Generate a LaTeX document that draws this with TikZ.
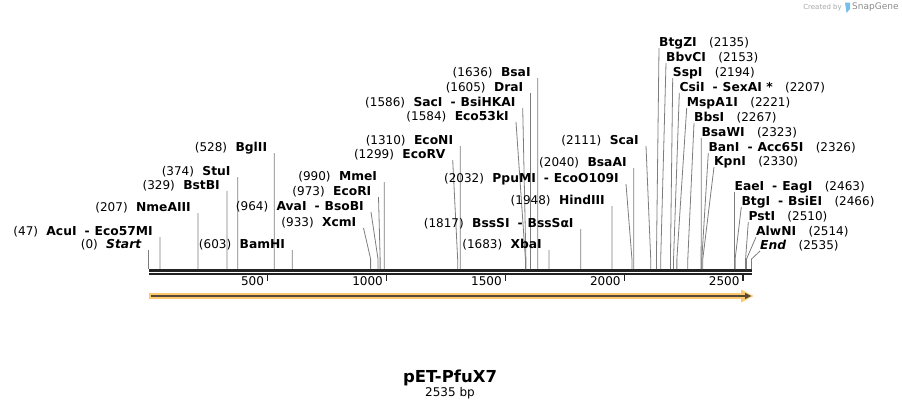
\documentclass[tikz,border=0pt]{standalone}
\usepackage{fontspec}
\setmainfont{DejaVu Sans}
\usetikzlibrary{positioning}
\definecolor{siteline}{RGB}{125,125,125}
\definecolor{featorange}{RGB}{250,200,110}
\definecolor{featdark}{RGB}{88,72,52}
\definecolor{rulerblack}{RGB}{34,34,34}
\definecolor{snapblue}{RGB}{120,190,235}
\newcommand\orsite{\hspace{8pt}-\hspace{5pt}}

\begin{document}
\begin{tikzpicture}[x=1pt,y=-1pt,
    enzyme/.style={font=\bfseries\fontsize{12.3}{14}\selectfont,inner sep=0pt},
    bpnum/.style={font=\fontsize{12}{14}\selectfont,inner sep=0pt},
    cutline/.style={draw=siteline,line width=0.8pt}]
    \useasboundingbox (0,0) rectangle (902,408);

    \draw[rulerblack,line width=3pt] (148.8,270.8) -- (752,270.8);
    \draw[rulerblack,line width=2pt] (148.8,274.3) -- (752,274.3);
    \foreach\k in {500,1000,1500,2000,2500}{
        \draw[rulerblack,line width=1.6pt] ({148.8+0.23776*\k},275) -- ++(0,6);
        \node[bpnum,anchor=base east] (k\k) at ({145.3+0.23776*\k},285.5) {\k};
    }

    \foreach\p/\tx/\ty/\enz in {0/148.8/250/\textit{Start}, 47/160.0/237/AcuI\orsite Eco57MI,
        207/198.0/213/NmeAIII, 329/227.0/191/BstBI, 374/237.7/177/StuI, 528/274.3/153/BglII,
        603/292.2/250/BamHI, 933/363.5/228/XcmI, 964/371.0/212/AvaI\orsite BsoBI,
        973/378.5/197/EcoRI, 990/384.2/182/MmeI, 1299/452.7/160/EcoRV, 1310/460.3/146/EcoNI,
        1584/516.0/122/Eco53kI, 1586/522.7/108/SacI\orsite BsiHKAI, 1605/530.4/93/DraI,
        1636/537.8/78/BsaI, 1683/549.0/250/XbaI, 1817/580.8/229/BssSI\orsite BssSαI,
        1948/612.0/206/HindIII, 2032/626.0/184/PpuMI\orsite EcoO109I, 2040/633.8/168/BsaAI,
        2111/646.0/146/ScaI}{
        \coordinate (s\p) at ({148.8+0.23776*\p},269);
        \coordinate (t\p) at (\tx,\ty);
        \node[enzyme,anchor=base east] (n\p) at ([xshift=-7pt,yshift=2pt]t\p) {\enz};
        \node[bpnum,left=8pt of n\p.base west,anchor=base east] (b\p) {(\p)};
        \draw[cutline] (s\p) -- ++(0,-10) -- (t\p);
    }

    \foreach\p/\tx/\ty/\enz in {2135/659.0/48/BtgZI, 2153/666.0/63/BbvCI, 2194/672.7/78/SspI,
        2207/679.3/93/CsiI\orsite SexAI *, 2221/686.7/108/MspA1I, 2267/694.0/123/BbsI,
        2323/701.3/138/BsaWI, 2326/708.3/153/BanI\orsite Acc65I, 2330/714.0/167/KpnI,
        2463/734.4/192/EaeI\orsite EagI, 2466/741.3/207/BtgI\orsite BsiEI, 2510/748.3/222/PstI,
        2514/756.0/237/AlwNI, 2535/760.0/251/\textit{End}}{
        \coordinate (s\p) at ({148.8+0.23776*\p},269);
        \coordinate (t\p) at (\tx,\ty);
        \node[enzyme,anchor=base west] (n\p) at ([yshift=2pt]t\p) {\enz};
        \node[bpnum,right=12pt of n\p.base east,anchor=base west] (b\p) {(\p)};
        \draw[cutline] (s\p) -- ++(0,-10) -- (t\p);
    }

    \draw[featorange,line width=5.5pt] (148.8,296) -- (743,296);
    \fill[featorange] (741,289.5) -- (753.5,296) -- (741,302.5) -- cycle;
    \draw[featdark,line width=2pt] (150.5,296) -- (746,296);
    \fill[featdark] (745,292.8) -- (751,296) -- (745,299.2) -- cycle;

    \node[font=\bfseries\fontsize{16.5}{18}\selectfont] (title) at (450,378) {pET-PfuX7};
    \node[bpnum] (len) at (450,393) {2535 bp};

    \node[font=\fontsize{7}{8}\selectfont,text=black!35,anchor=east,inner sep=0pt] (made) at (842,7.5) {Created by};
    \fill[snapblue] (845,2.5) -- (850,2.5) -- (850,9) -- (846.5,13) -- cycle;
    \node[font=\fontsize{9}{10}\selectfont,text=black!45,anchor=west,inner sep=0pt] (snap) at (852,7.5) {SnapGene};
\end{tikzpicture}
\end{document}
